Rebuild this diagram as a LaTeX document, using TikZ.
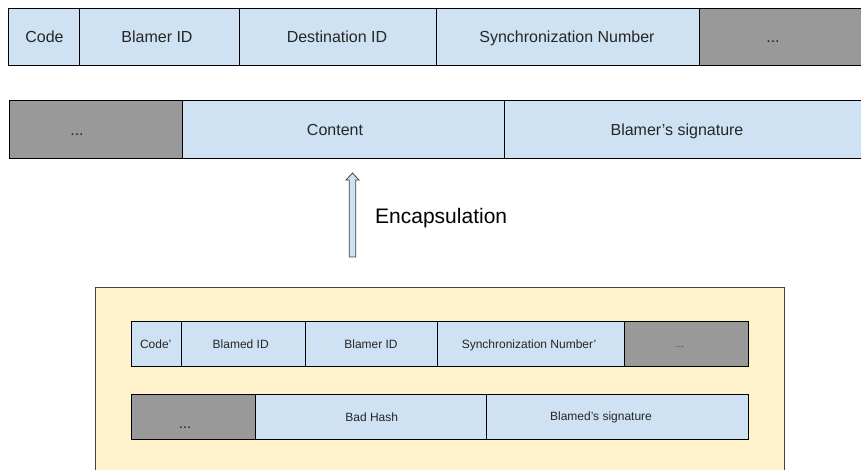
\documentclass[tikz,border=0pt]{standalone}
\usepackage{fontspec}
\setmainfont{Liberation Sans}
\usetikzlibrary{calc}
\definecolor{cellblue}{HTML}{CFE2F3}
\definecolor{cellgray}{HTML}{999999}
\definecolor{boxyellow}{HTML}{FFF2CC}
\definecolor{edgegray}{HTML}{434343}
\begin{document}
\begin{tikzpicture}[x=1pt,y=-1pt,
  bcell/.style={draw=black,line width=0.9pt,fill=cellblue,inner sep=0pt,anchor=north west},
  gcell/.style={draw=black,line width=0.9pt,fill=cellgray,inner sep=0pt,anchor=north west},
  bigtxt/.style={font=\fontsize{16}{18}\selectfont,inner sep=0pt,anchor=base,text=black!85},
  smalltxt/.style={font=\fontsize{12}{14}\selectfont,inner sep=0pt,anchor=base,text=black!85}]
\useasboundingbox (0,0) rectangle (861,469);
% top row
\node[bcell,minimum width=71,minimum height=57] (c1) at (8,8) {};
\node[bcell,minimum width=160,minimum height=57] (c2) at (79,8) {};
\node[bcell,minimum width=197,minimum height=57] (c3) at (239,8) {};
\node[bcell,minimum width=263,minimum height=57] (c4) at (436,8) {};
\node[gcell,minimum width=180,minimum height=57] (c5) at (699,8) {};
\node[bigtxt] (t1) at (44.5,42) {Code};
\node[bigtxt] (t2) at (157,42) {Blamer ID};
\node[bigtxt] (t3) at (337,42) {Destination ID};
\node[bigtxt] (t4) at (567,42) {Synchronization Number};
\node[bigtxt] (t5) at (773,42) {...};
% second row
\node[gcell,minimum width=173,minimum height=58] (d1) at (9,100) {};
\node[bcell,minimum width=322,minimum height=58] (d2) at (182,100) {};
\node[bcell,minimum width=370,minimum height=58] (d3) at (504,100) {};
\node[bigtxt] (u1) at (77,135) {...};
\node[bigtxt] (u2) at (335,135) {Content};
\node[bigtxt] (u3) at (677,135) {Blamer’s signature};
% arrow
\coordinate (abot) at (352.5,257);
\coordinate (atop) at (352.5,173);
\draw[edgegray,line width=0.8pt,fill=cellblue,line join=miter]
  ($(abot)+(-3.3,0)$) -- ($(atop)+(-3.3,7)$) -- ($(atop)+(-6.5,7)$) -- (atop)
  -- ($(atop)+(6.5,7)$) -- ($(atop)+(3.3,7)$) -- ($(abot)+(3.3,0)$) -- cycle;
\node[font=\fontsize{21}{24}\selectfont,inner sep=0pt,anchor=base west] (enc) at (375,223.3) {Encapsulation};
% yellow box
\node[draw=edgegray,line width=1pt,fill=boxyellow,inner sep=0pt,anchor=north west,minimum width=689,minimum height=200] (ybox) at (95,287) {};
% inner row 1
\node[bcell,minimum width=50,minimum height=45] (e1) at (131,321) {};
\node[bcell,minimum width=124,minimum height=45] (e2) at (181,321) {};
\node[bcell,minimum width=132,minimum height=45] (e3) at (305,321) {};
\node[bcell,minimum width=187,minimum height=45] (e4) at (437,321) {};
\node[gcell,minimum width=124,minimum height=45] (e5) at (624,321) {};
\node[smalltxt] (s1) at (155.7,348.5) {Code’};
\node[smalltxt] (s2) at (240.7,348.5) {Blamed ID};
\node[smalltxt] (s3) at (371,348.5) {Blamer ID};
\node[smalltxt] (s4) at (529,348.5) {Synchronization Number’};
\node[font=\fontsize{10}{12}\selectfont,inner sep=0pt,anchor=base,text=black!75] (s5) at (680,347.5) {...};
% inner row 2
\node[gcell,minimum width=124,minimum height=45] (f1) at (131,394) {};
\node[bcell,minimum width=231,minimum height=45] (f2) at (255,394) {};
\node[bcell,minimum width=262,minimum height=45] (f3) at (486,394) {};
\node[font=\fontsize{15}{17}\selectfont,inner sep=0pt,anchor=base,text=black!85] (v1) at (185,428) {...};
\node[smalltxt] (v2) at (371.7,421.7) {Bad Hash};
\node[smalltxt] (v3) at (601,420.7) {Blamed’s signature};
\end{tikzpicture}
\end{document}
